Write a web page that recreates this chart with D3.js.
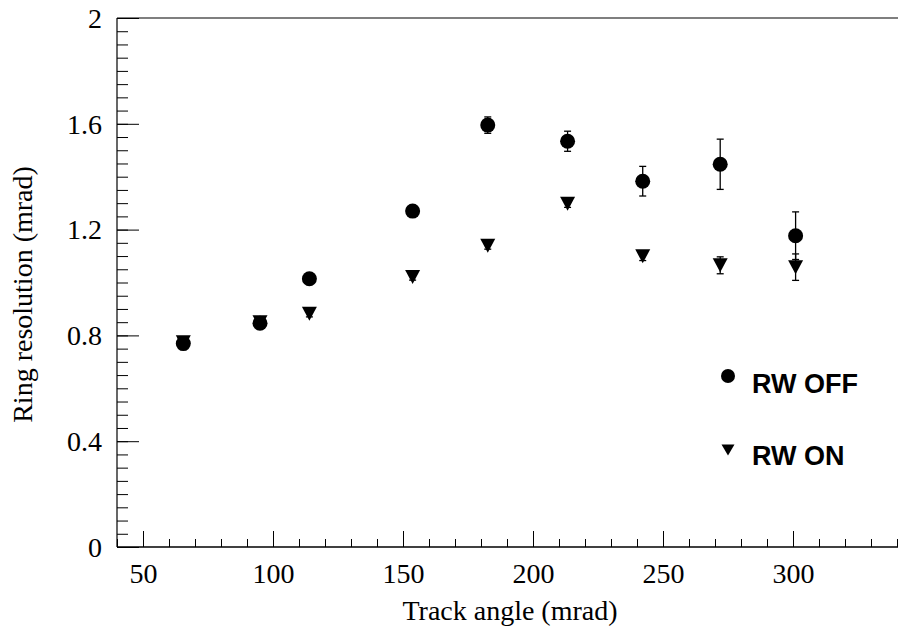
<!DOCTYPE html>
<html><head><meta charset="utf-8">
<script src="https://cdn.jsdelivr.net/npm/d3@7"></script>
<style>body{margin:0;background:#fff} svg{display:block}</style>
</head><body>
<svg id="c" width="898" height="633"></svg>
<script>
// ---- data ----
const trackAngle = [65.5, 95, 114, 153.7, 182.6, 213.3, 242.2, 272, 301];
const rwOff      = [0.769, 0.846, 1.014, 1.270, 1.595, 1.534, 1.383, 1.447, 1.177];
const rwOffErr   = [0.010, 0.012, 0.012, 0.015, 0.031, 0.038, 0.056, 0.095, 0.090];
const rwOn       = [0.774, 0.850, 0.882, 1.021, 1.139, 1.298, 1.099, 1.065, 1.058];
const rwOnErr    = [0.010, 0.010, 0.012, 0.012, 0.013, 0.014, 0.016, 0.032, 0.050];
const xTicks = [50, 100, 150, 200, 250, 300];
const yTicks = [0, 0.4, 0.8, 1.2, 1.6, 2];
const xTitle = "Track angle (mrad)";
const yTitle = "Ring resolution (mrad)";
const legendLabels = ["RW OFF", "RW ON"];

// ---- layout ----
const L = 117, R = 897, T = 18, B = 547;
const svg = d3.select("#c");
const x = d3.scaleLinear().domain([40, 340]).range([L, R]);
const y = d3.scaleLinear().domain([0, 2]).range([B, T]);
const serif = "'Liberation Serif','Times New Roman',Times,serif";
const sans = "'Liberation Sans',Arial,Helvetica,sans-serif";

// frame lines (left, bottom, top)
svg.append("line").attr("x1", L).attr("x2", L).attr("y1", T).attr("y2", B).attr("stroke", "#000").attr("stroke-width", 1.2);
svg.append("line").attr("x1", L).attr("x2", 898).attr("y1", B).attr("y2", B).attr("stroke", "#000").attr("stroke-width", 1.4);
svg.append("line").attr("x1", L).attr("x2", 898).attr("y1", T).attr("y2", T).attr("stroke", "#000").attr("stroke-width", 1.2);

// x minor ticks
const gxm = svg.append("g").attr("transform", `translate(0,${B})`)
  .call(d3.axisBottom(x).tickValues(d3.range(40, 341, 10)).tickSize(-8).tickSizeOuter(0).tickFormat(""));
// x major ticks
const gx = svg.append("g").attr("transform", `translate(0,${B})`)
  .call(d3.axisBottom(x).tickValues(xTicks).tickSize(-16).tickSizeOuter(0).tickFormat(d3.format("d")));
// y minor
const gym = svg.append("g").attr("transform", `translate(${L},0)`)
  .call(d3.axisLeft(y).tickValues(d3.range(0, 2.001, 0.05)).tickSize(-11).tickSizeOuter(0).tickFormat(""));
// y major
const gy = svg.append("g").attr("transform", `translate(${L},0)`)
  .call(d3.axisLeft(y).tickValues(yTicks).tickSize(-22).tickSizeOuter(0)
    .tickFormat(d => (d === 0 || d === 2) ? String(d) : d.toFixed(1)));

[gxm, gx, gym, gy].forEach(g => {
  g.select(".domain").remove();
  g.selectAll(".tick line").attr("stroke", "#000").attr("stroke-width", 1);
});
gx.selectAll(".tick text").attr("y", 36).attr("dy", 0)
  .attr("font-family", serif).attr("font-size", 28).attr("fill", "#000");
gy.selectAll(".tick text").attr("x", -15).attr("dy", "0.33em")
  .attr("font-family", serif).attr("font-size", 28).attr("fill", "#000");

// axis titles
svg.append("text").attr("x", (L + R) / 2 + 3).attr("y", 620).attr("text-anchor", "middle")
  .attr("font-family", serif).attr("font-size", 28).text(xTitle);
svg.append("text").attr("transform", `translate(32,${(T + B) / 2 + 12}) rotate(-90)`)
  .attr("text-anchor", "middle").attr("font-family", serif).attr("font-size", 28).text(yTitle);

// data
const off = trackAngle.map((a, i) => ({a, v: rwOff[i], e: rwOffErr[i]}));
const on = trackAngle.map((a, i) => ({a, v: rwOn[i], e: rwOnErr[i]}));
const tri = "M-7.5,-7L7.5,-7L0,7Z";
const triSmall = "M-6.5,-5.5L6.5,-5.5L0,5.5Z";

function errBars(data) {
  const g = svg.append("g").attr("stroke", "#000").attr("stroke-width", 1.3);
  data.forEach(d => {
    g.append("line").attr("x1", x(d.a)).attr("x2", x(d.a)).attr("y1", y(d.v - d.e)).attr("y2", y(d.v + d.e));
    [d.v - d.e, d.v + d.e].forEach(v =>
      g.append("line").attr("x1", x(d.a) - 3.5).attr("x2", x(d.a) + 3.5).attr("y1", y(v)).attr("y2", y(v)));
  });
}
errBars(on);
errBars(off);
svg.append("g").selectAll("path").data(on).join("path")
  .attr("d", tri).attr("transform", d => `translate(${x(d.a)},${y(d.v)})`).attr("fill", "#000");
svg.append("g").selectAll("circle").data(off).join("circle")
  .attr("cx", d => x(d.a)).attr("cy", d => y(d.v)).attr("r", 7.5).attr("fill", "#000");

// legend
const lg = svg.append("g");
lg.append("circle").attr("cx", 728).attr("cy", 376).attr("r", 7).attr("fill", "#000");
lg.append("path").attr("d", triSmall).attr("transform", "translate(728,450)").attr("fill", "#000");
lg.selectAll("text").data(legendLabels).join("text")
  .attr("x", 752).attr("y", (d, i) => i === 0 ? 393 : 465)
  .attr("font-family", sans).attr("font-weight", "bold").attr("font-size", 27).text(d => d);
</script>
</body></html>
